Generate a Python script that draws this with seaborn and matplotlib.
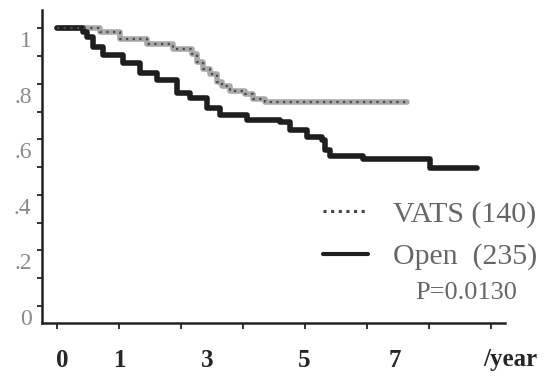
#!/usr/bin/env python3
"""Curvas de supervivencia VATS vs Open (recreación de figura escaneada)."""

import matplotlib
matplotlib.use("Agg")
import matplotlib.pyplot as plt
import matplotlib.transforms as mtransforms
from matplotlib.lines import Line2D
import pandas as pd
import seaborn as sns

# --- datos (años, supervivencia) ---
vats_years = [0.0, 0.69, 1.02, 1.45, 1.87, 2.18, 2.26, 2.35, 2.47, 2.58,
              2.66, 2.79, 3.03, 3.16, 3.35, 5.65]
vats_surv = [1.0, 0.987, 0.962, 0.944, 0.926, 0.908, 0.879, 0.854, 0.836, 0.807,
             0.793, 0.775, 0.764, 0.746, 0.735, 0.735]

open_years = [0.0, 0.42, 0.48, 0.58, 0.74, 1.06, 1.34, 1.61, 1.94, 2.15, 2.42,
              2.63, 3.06, 3.60, 3.76, 4.03, 4.27, 4.32, 4.40, 4.94, 6.02, 6.77]
open_surv = [1.0, 0.987, 0.969, 0.933, 0.904, 0.876, 0.840, 0.814, 0.768, 0.750,
             0.714, 0.688, 0.670, 0.663, 0.634, 0.609, 0.599, 0.562, 0.541, 0.530,
             0.497, 0.497]

group_labels = ["VATS (140)", "Open  (235)"]
p_text = "P=0.0130"

y_ticks = [0, 0.2, 0.4, 0.6, 0.8, 1.0]
y_ticklabels = ["0", ".2", ".4", ".6", ".8", "1"]
x_labels = ["0", "1", "3", "5", "7"]
x_label_pos = [0.08, 1.02, 2.42, 3.98, 5.45]
x_tick_years = [0, 1, 2, 3, 4, 5, 6, 7]
x_unit = "/year"

df = pd.concat([
    pd.DataFrame({"year": vats_years, "surv": vats_surv, "group": group_labels[0]}),
    pd.DataFrame({"year": open_years, "surv": open_surv, "group": group_labels[1]}),
])

sns.set_style("ticks")
plt.rcParams["font.family"] = ["Liberation Serif", "DejaVu Serif"]

fig = plt.figure(figsize=(5.47, 3.79), dpi=100)
ax = fig.add_axes([0.0768, 0.1478, 0.8464, 0.8259])

sns.lineplot(
    data=df, x="year", y="surv", hue="group",
    palette={group_labels[0]: "#a8a8a8", group_labels[1]: "#1e1e1e"},
    estimator=None, sort=False, drawstyle="steps-post",
    linewidth=4.0, legend=False, ax=ax,
)
# punteado oscuro encima de la banda gris de VATS
sns.lineplot(
    data=df[df["group"] == group_labels[0]], x="year", y="surv",
    estimator=None, sort=False, drawstyle="steps-post",
    color="#4a4a4a", linewidth=1.6, linestyle=(0, (1, 2)), legend=False, ax=ax,
)

ax.set_xlim(-0.242, 7.226)
ax.set_ylim(-0.0613, 1.0667)
sns.despine(ax=ax)
for side in ["left", "bottom"]:
    ax.spines[side].set_linewidth(1.8)
    ax.spines[side].set_color("#222222")

# eje y: marcas cada 0.1, etiquetas algo desplazadas hacia abajo como en el escaneo
ax.set_yticks(y_ticks, y_ticklabels)
ax.set_yticks([0.1, 0.3, 0.5, 0.7, 0.9], minor=True)
ax.tick_params(axis="y", which="both", direction="out", length=3.5, width=1.3,
               color="#222222", pad=4, labelsize=17, labelcolor="#8a8a8a")
offset = mtransforms.ScaledTranslation(0, -0.11, fig.dpi_scale_trans)
for lab in ax.get_yticklabels():
    lab.set_transform(lab.get_transform() + offset)

# eje x
ax.set_xticks(x_label_pos, x_labels)
ax.set_xticks(x_tick_years, minor=True)
ax.tick_params(axis="x", which="major", length=0, pad=19, labelsize=18)
ax.tick_params(axis="x", which="minor", direction="out", length=4, width=1.3,
               color="#222222")
for lab in ax.get_xticklabels():
    lab.set_fontweight("bold")
ax.text(7.31, -0.118, x_unit, transform=ax.get_xaxis_transform(),
        ha="center", va="center", fontsize=18, fontweight="bold")
ax.set_xlabel("")
ax.set_ylabel("")

handles = [
    Line2D([], [], color="#444444", linewidth=2.2, linestyle=(0, (1, 1.5))),
    Line2D([], [], color="#1e1e1e", linewidth=3.0),
]
ax.legend(handles, group_labels, loc="upper left",
          bbox_to_anchor=(323 / 547, 1 - 201 / 379), bbox_transform=fig.transFigure,
          frameon=False, fontsize=21.5, handlelength=1.5, handletextpad=0.85,
          labelspacing=0.5, borderpad=0, borderaxespad=0, labelcolor="#666666")
fig.text(466 / 547, 1 - 293 / 379, p_text, ha="center", va="center",
         fontsize=19, color="#666666")

fig.savefig("out.png", dpi=100)
